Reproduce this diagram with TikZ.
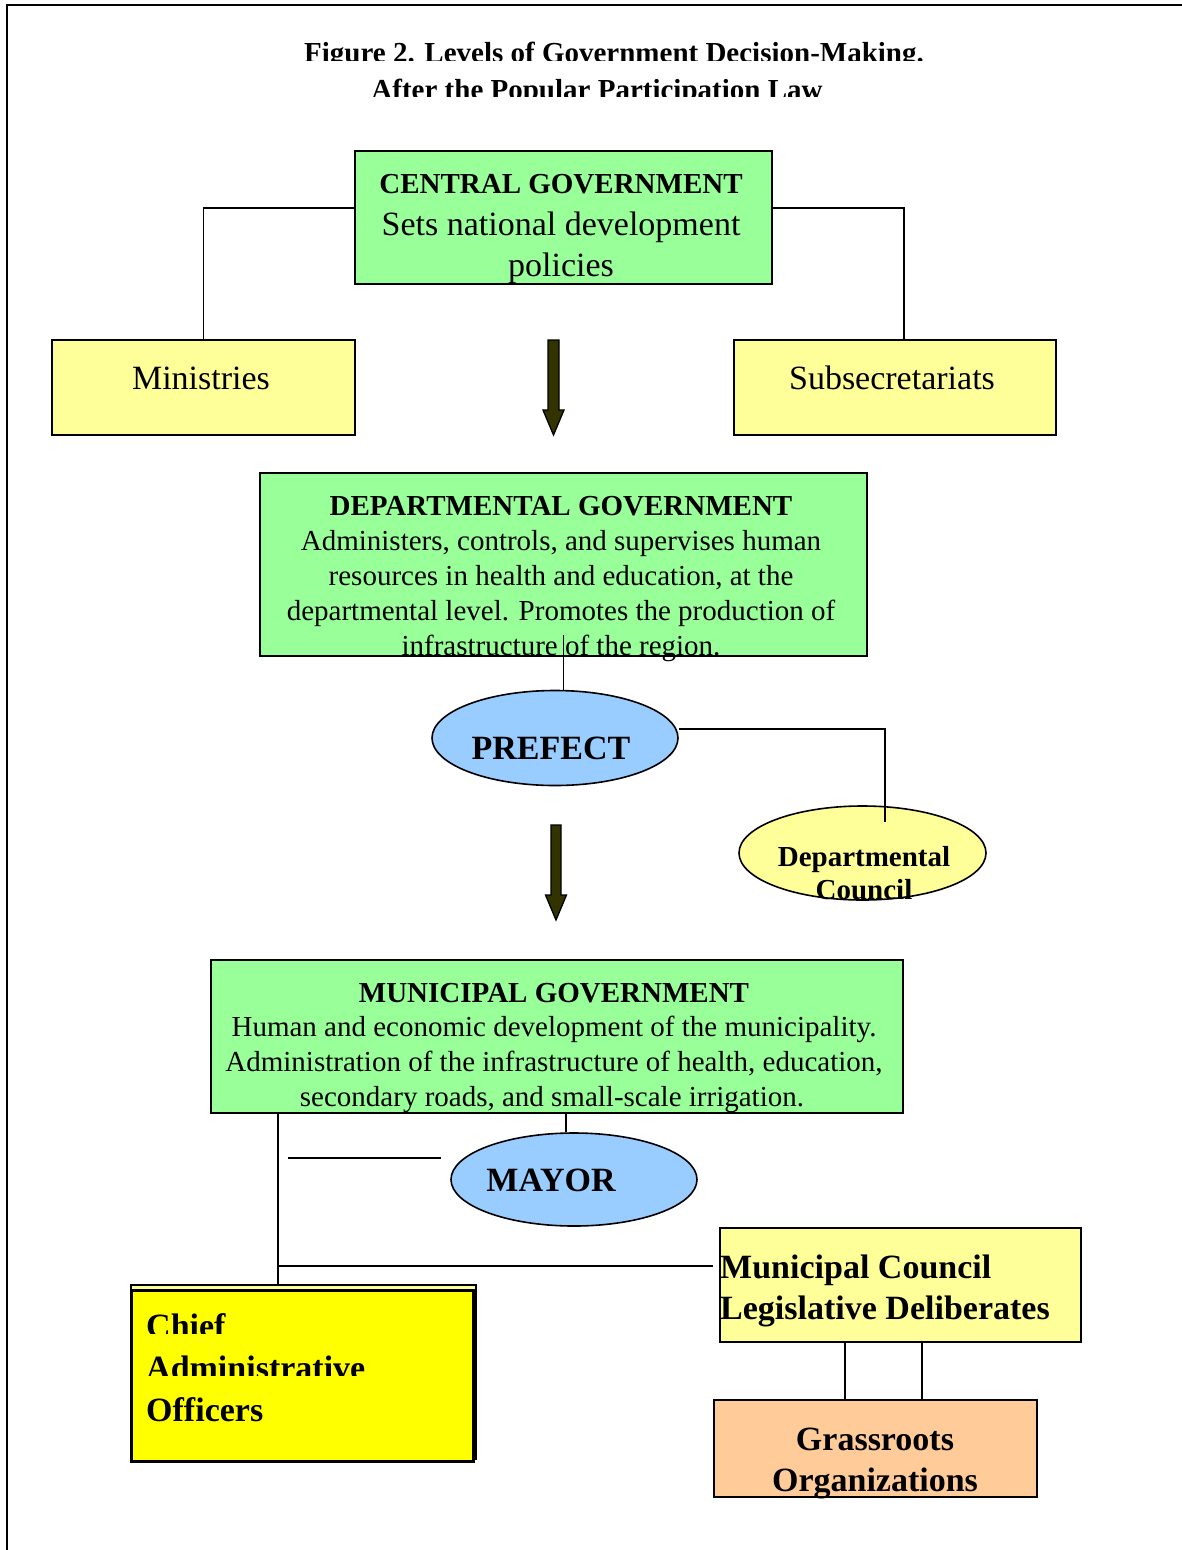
\documentclass[tikz,border=0pt]{standalone}
\usepackage{fontspec}
\setmainfont{Liberation Serif}
\usetikzlibrary{shapes.geometric,calc}
\definecolor{govgreen}{HTML}{99FF99}
\definecolor{paleyellow}{HTML}{FFFF99}
\definecolor{skyblue}{HTML}{99CCFF}
\definecolor{peach}{HTML}{FFCC99}
\definecolor{brightyellow}{HTML}{FFFF00}
\definecolor{olivedark}{HTML}{333300}
\tikzset{
  box/.style={draw=black, line width=1.6pt, inner sep=0pt},
  oval/.style={ellipse, draw=black, line width=1.6pt, inner sep=0pt},
  link/.style={draw=black, line width=1.7pt},
  blockarrow/.style={draw=black, line width=1.3pt, fill=olivedark},
  plain/.style={anchor=base, inner sep=0pt, font=\fontsize{29}{33}\selectfont},
  plainbig/.style={anchor=base, inner sep=0pt, font=\fontsize{34}{39}\selectfont},
  heading/.style={anchor=base, inner sep=0pt, font=\fontsize{29}{33}\selectfont\bfseries},
  headbig/.style={anchor=base, inner sep=0pt, font=\fontsize{34}{39}\selectfont\bfseries},
}
\begin{document}
\begin{tikzpicture}[x=1pt,y=-1pt]
\useasboundingbox (0,0) rectangle (1182,1550);
\fill[white] (0,0) rectangle (1182,1550);
% page frame
\draw[line width=2.6pt] (7,1550) -- (7,5) -- (1182,5);

% title (cut off at the baseline)
\begin{scope}
  \clip (0,0) rectangle (1182,60);
  \node[heading] (title1) at (614,62) {Figure 2. Levels of Government Decision-Making.};
\end{scope}
\begin{scope}
  \clip (0,60) rectangle (1182,96);
  \node[heading] (title2) at (597,99) {After the Popular Participation Law};
\end{scope}

% central level
\node[box, fill=govgreen, minimum width=417pt, minimum height=133pt] (central) at (563.5,217.5) {};
\node[heading] (centralA) at (561,193) {CENTRAL GOVERNMENT};
\node[plainbig] (centralB) at (561,235) {Sets national development};
\node[plainbig] (centralC) at (561,276) {policies};

\node[box, fill=paleyellow, minimum width=303pt, minimum height=95pt] (ministries) at (203.5,387.5) {};
\node[plainbig] (ministriesT) at (201,389) {Ministries};
\node[box, fill=paleyellow, minimum width=322pt, minimum height=95pt] (subsec) at (895,387.5) {};
\node[plainbig] (subsecT) at (892,389) {Subsecretariats};

\draw[link] ([yshift=9.5pt]central.west) -| (ministries.north);
\draw[link] ([yshift=9.5pt]central.east) -| ([xshift=9pt]subsec.north);

% downward block arrow
\draw[blockarrow] (548,340) -- (559,340) -- (559,410) -- (564,410) -- (553.5,435)
  -- (543,410) -- (548,410) -- cycle;

% departmental level
\node[box, fill=govgreen, minimum width=607pt, minimum height=183pt] (dept) at (563.5,564.5) {};
\node[heading] (deptA) at (561,515) {DEPARTMENTAL GOVERNMENT};
\node[plain] (deptB) at (561,550) {Administers, controls, and supervises human};
\node[plain] (deptC) at (561,585) {resources in health and education, at the};
\node[plain] (deptD) at (561,620) {departmental level. Promotes the production of};
\node[plain] (deptE) at (561,655) {infrastructure of the region.};

\node[oval, fill=skyblue, minimum width=246pt, minimum height=95pt] (prefect) at (555,738) {};
\node[headbig] (prefectT) at (551,759) {PREFECT};

\node[oval, fill=paleyellow, minimum width=247pt, minimum height=94pt] (dcouncil) at (862.5,853) {};
\node[heading] (dcouncilA) at (864,866) {Departmental};
\node[heading] (dcouncilB) at (864,899) {Council};

\draw[link] ([yshift=22pt]dept.south) -- (dept.south |- prefect.north);
\coordinate (dcTop) at ([xshift=22.5pt,yshift=-17pt]dcouncil.north);
\draw[link] ([yshift=9pt]prefect.east) -| (dcTop);

\draw[blockarrow] (551,825) -- (561,825) -- (561,895) -- (566.5,895) -- (556,920)
  -- (545.5,895) -- (551,895) -- cycle;

% municipal level
\node[box, fill=govgreen, minimum width=692pt, minimum height=153pt] (muni) at (557,1036.5) {};
\node[heading] (muniA) at (554,1002) {MUNICIPAL GOVERNMENT};
\node[plain] (muniB) at (554,1036) {Human and economic development of the municipality.};
\node[plain] (muniC) at (554,1071) {Administration of the infrastructure of health, education,};
\node[plain] (muniD) at (552,1106) {secondary roads, and small-scale irrigation.};

\node[oval, fill=skyblue, minimum width=246pt, minimum height=93pt] (mayor) at (574,1179.5) {};
\node[headbig] (mayorT) at (551,1191) {MAYOR};

\draw[link] ([xshift=9pt]muni.south) -- ([xshift=9pt]muni.south |- mayor.north);
\coordinate (strayA) at (288,1158);
\coordinate (strayB) at (441,1158);
\draw[link] (strayA) -- (strayB);

\node[box, fill=paleyellow, minimum width=361pt, minimum height=114pt] (mcouncil) at (900.5,1285) {};
\node[headbig, anchor=base west] (mcouncilA) at (720,1278) {Municipal Council};
\node[headbig, anchor=base west] (mcouncilB) at (720,1319) {Legislative Deliberates};

\node[box, fill=peach, minimum width=323pt, minimum height=97pt] (grass) at (875.5,1448.5) {};
\node[headbig] (grassA) at (875,1450) {Grassroots};
\node[headbig] (grassB) at (875,1491) {Organizations};

\draw[link] ([xshift=-55.5pt]mcouncil.south) -- ([xshift=-55.5pt]mcouncil.south |- grass.north);
\draw[link] ([xshift=21.5pt]mcouncil.south) -- ([xshift=21.5pt]mcouncil.south |- grass.north);

% chief administrative officers, with its stacked frame
\draw[line width=1.2pt, fill=paleyellow] (131,1285) rectangle (476,1459);
\node[draw=black, line width=3pt, fill=brightyellow, inner sep=0pt,
      minimum width=342pt, minimum height=171pt] (chief) at (302,1375.5) {};
\draw[line width=2.2pt] (146,1285) -- (461,1285);
\begin{scope}
  \clip (131,1300) rectangle (476,1333);
  \node[headbig, anchor=base west] (chiefA) at (146,1337) {Chief};
\end{scope}
\begin{scope}
  \clip (131,1345) rectangle (476,1375);
  \node[headbig, anchor=base west] (chiefB) at (146,1379) {Administrative};
\end{scope}
\node[headbig, anchor=base west] (chiefC) at (146,1421) {Officers};

\coordinate (trunk) at ([xshift=68pt]muni.south west);
\draw[link] (trunk) -- (trunk |- 0,1285);
\coordinate (junction) at (trunk |- 0,1266);
\draw[link] (junction) -- ([xshift=-6pt,yshift=19pt]mcouncil.west);
\end{tikzpicture}
\end{document}
